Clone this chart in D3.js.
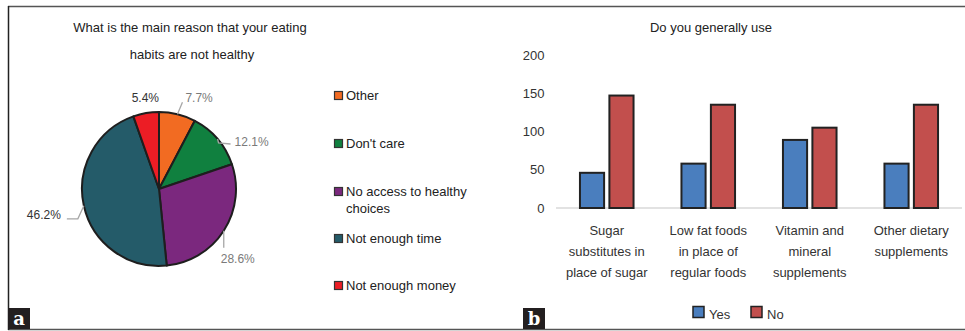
<!DOCTYPE html>
<html>
<head>
<meta charset="utf-8">
<script src="https://cdn.jsdelivr.net/npm/d3@7"></script>
<style>
  html, body { margin: 0; padding: 0; background: #fff; }
  svg { display: block; font-family: "Liberation Sans", Arial, sans-serif; }
</style>
</head>
<body>
<svg id="chart" width="965" height="331"></svg>
<script>
// Panel a: reasons for unhealthy eating habits (percent of respondents)
const reasons = ["Other", "Don't care", "No access to healthy choices", "Not enough time", "Not enough money"];
const reasonShares = [7.7, 12.1, 28.6, 46.2, 5.4];
const reasonColors = ["#F26B22", "#10803F", "#7B287E", "#245B69", "#EC1D25"];
const legendLines = [["Other"], ["Don't care"], ["No access to healthy", "choices"], ["Not enough time"], ["Not enough money"]];

// Panel b: use of dietary products (counts)
const products = [
  ["Sugar", "substitutes in", "place of sugar"],
  ["Low fat foods", "in place of", "regular foods"],
  ["Vitamin and", "mineral", "supplements"],
  ["Other dietary", "supplements"]
];
const yesCounts = [46, 58, 89, 58];
const noCounts = [147, 135, 105, 135];
const seriesNames = ["Yes", "No"];
const seriesColors = ["#4A7EBE", "#C24F4D"];
const yTicks = [0, 50, 100, 150, 200];

const svg = d3.select("#chart");

// Frame lines and panel tags
const frame = svg.append("g").attr("stroke", "#555").attr("stroke-width", 1.5);
frame.append("line").attr("x1", 8).attr("x2", 965).attr("y1", 6.5).attr("y2", 6.5);
frame.append("line").attr("x1", 8).attr("x2", 965).attr("y1", 329.5).attr("y2", 329.5);
frame.append("line").attr("x1", 8.5).attr("x2", 8.5).attr("y1", 6).attr("y2", 330).attr("stroke", "#222");

function tag(x, letter) {
  svg.append("rect").attr("x", x).attr("y", 308).attr("width", 22).attr("height", 21).attr("fill", "#231f20");
  svg.append("text").attr("x", x + 11).attr("y", 325).attr("text-anchor", "middle")
    .attr("fill", "#fff").attr("font-family", "'DejaVu Serif', serif").attr("font-weight", "bold")
    .attr("font-size", 18).text(letter);
}
tag(8, "a");
tag(523, "b");

// ---------- Pie ----------
const pieG = svg.append("g");
pieG.append("text").attr("x", 190).attr("y", 31.5).attr("text-anchor", "middle")
  .attr("font-size", 13).attr("fill", "#222").text("What is the main reason that your eating");
pieG.append("text").attr("x", 192).attr("y", 59).attr("text-anchor", "middle")
  .attr("font-size", 13).attr("fill", "#222").text("habits are not healthy");

const cx = 159, cy = 189, R = 77;
const pie = d3.pie().sort(null).value(d => d)(reasonShares);
const arc = d3.arc().innerRadius(0).outerRadius(R);
const slices = pieG.append("g").attr("transform", `translate(${cx},${cy})`);
slices.selectAll("path").data(pie).join("path")
  .attr("d", arc)
  .attr("fill", (d, i) => reasonColors[i])
  .attr("stroke", "#1e1e1e").attr("stroke-width", 2).attr("stroke-linejoin", "round");

// Leader-line shapes and label placement per slice, relative to the rim point
const labelLayout = [
  { path: [[5, -12]], text: [8, -12], anchor: "start", color: "#7a7a7a" },
  { path: [[1, 4], [13, 5]], text: [17, 7], anchor: "start", color: "#7a7a7a" },
  { path: [[0, 17]], text: [-3, 32], anchor: "start", color: "#7a7a7a" },
  { path: [[-6, 13], [-17, 13]], text: [-23, 13.5], anchor: "end", color: "#333" },
  { path: null, text: [13, -11], anchor: "end", color: "#333" }
];
const lbl = pieG.append("g");
pie.forEach((d, i) => {
  const a = (d.startAngle + d.endAngle) / 2;
  const px = cx + R * Math.sin(a), py = cy - R * Math.cos(a);
  const L = labelLayout[i];
  if (L.path) {
    const pts = [[px, py]].concat(L.path.map(p => [px + p[0], py + p[1]]));
    lbl.append("path").attr("d", d3.line()(pts)).attr("fill", "none")
      .attr("stroke", "#a6a6a6").attr("stroke-width", 1.3);
  }
  lbl.append("text").attr("x", px + L.text[0]).attr("y", py + L.text[1])
    .attr("text-anchor", L.anchor).attr("font-size", 12).attr("fill", L.color)
    .text(reasonShares[i].toFixed(1) + "%");
});

// Legend
const legendY = [100, 148, 196, 243, 290];
const leg = pieG.append("g");
reasons.forEach((r, i) => {
  leg.append("rect").attr("x", 334.5).attr("y", legendY[i] - 8.5).attr("width", 8).attr("height", 8)
    .attr("fill", reasonColors[i]).attr("stroke", "#333").attr("stroke-width", 1.2);
  legendLines[i].forEach((t, j) => {
    leg.append("text").attr("x", 346).attr("y", legendY[i] + j * 17)
      .attr("font-size", 13).attr("fill", "#222").text(t);
  });
});

// ---------- Grouped bars ----------
const barG = svg.append("g");
barG.append("text").attr("x", 711).attr("y", 32).attr("text-anchor", "middle")
  .attr("font-size", 13).attr("fill", "#222").text("Do you generally use");

const x0 = d3.scaleBand().domain(d3.range(products.length)).range([556, 962]);
const x1 = d3.scaleBand().domain(seriesNames).range([-29, 29]).paddingInner(0.18).paddingOuter(0.075);
const y = d3.scaleLinear().domain([0, 200]).range([208, 55]);

// y tick labels (no axis line)
const yAxis = d3.axisLeft(y).tickValues(yTicks).tickSize(0).tickPadding(0);
const ya = barG.append("g").attr("transform", "translate(544.5,0)").call(yAxis);
ya.select(".domain").remove();
ya.selectAll("text").attr("font-size", 13).attr("fill", "#333").attr("font-family", "'Liberation Sans', Arial, sans-serif");

// baseline
barG.append("line").attr("x1", 556).attr("x2", 962).attr("y1", y(0)).attr("y2", y(0))
  .attr("stroke", "#d9d9d9").attr("stroke-width", 1.5);

const groups = barG.selectAll("g.grp").data(products).join("g").attr("class", "grp")
  .attr("transform", (d, i) => `translate(${x0(i) + x0.bandwidth() / 2},0)`);
groups.each(function (d, i) {
  const g = d3.select(this);
  const vals = [yesCounts[i], noCounts[i]];
  seriesNames.forEach((s, k) => {
    g.append("rect").attr("x", x1(s)).attr("width", x1.bandwidth())
      .attr("y", y(vals[k])).attr("height", y(0) - y(vals[k]))
      .attr("fill", seriesColors[k]).attr("stroke", "#222").attr("stroke-width", 2);
  });
  d.forEach((t, j) => {
    g.append("text").attr("x", 0).attr("y", 235 + j * 21).attr("text-anchor", "middle")
      .attr("font-size", 13).attr("fill", "#333").text(t);
  });
});

// Legend
const legX = [693, 751];
seriesNames.forEach((s, k) => {
  barG.append("rect").attr("x", legX[k]).attr("y", 306.5).attr("width", 11).attr("height", 11)
    .attr("fill", seriesColors[k]).attr("stroke", "#222").attr("stroke-width", 1.5);
  barG.append("text").attr("x", legX[k] + 16).attr("y", 319).attr("font-size", 13)
    .attr("fill", "#333").text(s);
});
</script>
</body>
</html>
